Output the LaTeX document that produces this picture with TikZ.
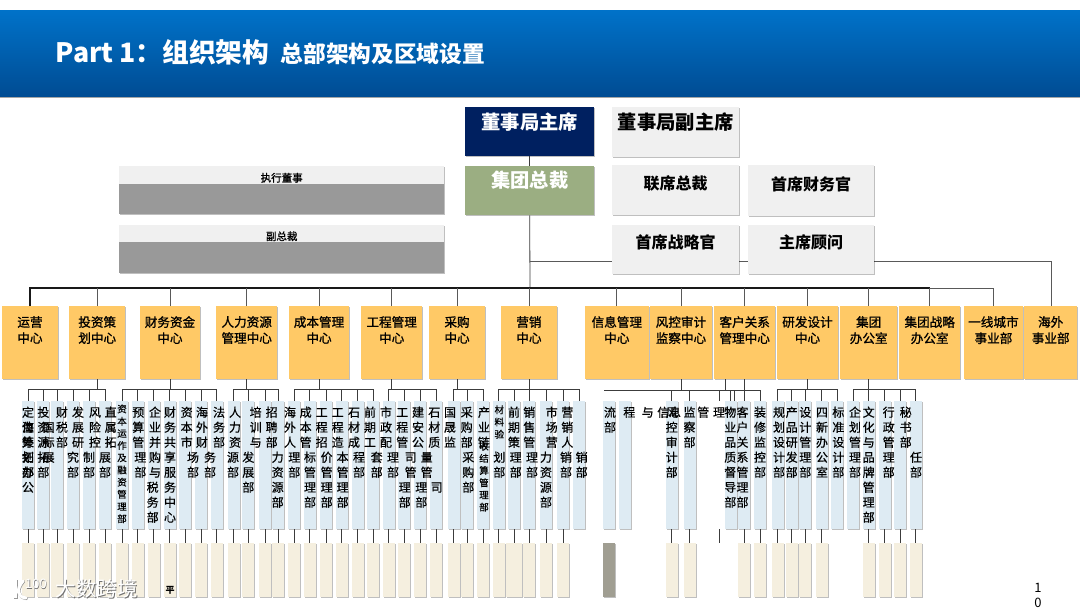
\documentclass[tikz,border=0pt]{standalone}
\usepackage{fontspec}
\setmainfont{Noto Sans CJK SC}
\newfontfamily\medfont[FakeBold=0.5]{Noto Sans CJK SC}
\newfontfamily\hubfont[FakeBold=1.1]{Noto Sans CJK SC}
\usetikzlibrary{shadows,calc}
\definecolor{HeaderTop}{HTML}{0072C9}
\definecolor{HeaderBot}{HTML}{004C93}
\definecolor{deptblue}{HTML}{DEEBF3}
\definecolor{deptbeige}{HTML}{F5EFDF}
\definecolor{hubgold}{HTML}{FFC966}
\definecolor{execgrey}{HTML}{F0F0F0}
\definecolor{navyb}{HTML}{002060}
\definecolor{sageb}{HTML}{9BAE82}
\definecolor{slateb}{HTML}{A09E92}
\definecolor{midgrey}{HTML}{999999}
\definecolor{connb}{HTML}{3C3C3C}
\tikzset{
  softshadow/.style={drop shadow={shadow xshift=1pt,shadow yshift=-1pt,fill=black,opacity=.25}},
  conn/.style={draw=connb,line width=.8pt},
  topdrop/.style={draw=black!65,line width=.9pt},
  busline/.style={draw=black!90,line width=1.1pt},
  bluebox/.style={fill=deptblue,minimum width=12pt,minimum height=128pt,inner sep=0,softshadow},
  beigebox/.style={fill=deptbeige,minimum width=12pt,minimum height=54pt,inner sep=0,softshadow},
  vtxt/.style={anchor=north,align=center,inner sep=0,text=black,font=\medfont\fontsize{12}{15}\selectfont},
  vsmall/.style={anchor=north,align=center,inner sep=0,text=black,font=\medfont\fontsize{9.5}{12.2}\selectfont},
  panelbox/.style={inner sep=0,softshadow},
}
\newcounter{vtc}
% #1 x, #2 line number, #3 characters
\newcommand{\vt}[3]{\stepcounter{vtc}\node[vtxt,name=vt\arabic{vtc}] at (#1,{406.1+15*(#2-1)}) {\strut #3};}
\newcommand{\vts}[3]{\stepcounter{vtc}\node[vsmall,name=vt\arabic{vtc}] at (#1,#2) {\strut #3};}
% name, x1, x2, y1, y2, pad, size, leading, style, text
\newcommand{\panel}[9]{%
  \pgfmathsetmacro{\pw}{#3-#2}\pgfmathsetmacro{\ph}{#5-#4}%
  \node[panelbox,#9,anchor=north west,name=#1] at (#2,#4) {\parbox[t][\ph pt][t]{\pw pt}{\centering\vspace*{#6pt}\fontsize{#7}{#8}\selectfont\panelfont\strut\paneltext}};}
\newcommand{\hub}[4]{\def\paneltext{#4}\def\panelfont{\hubfont}\panel{#1}{#2}{#3}{306}{379}{10}{12.6}{15}{fill=hubgold}}
\def\panelfont{\bfseries}
\begin{document}
\begin{tikzpicture}[x=1pt,y=-1pt]
\useasboundingbox (0,0) rectangle (1080,608);
\clip (0,0) rectangle (1080,608);
\fill[white] (0,0) rectangle (1080,608);

% title band
\fill[black!35] (0,96) rectangle (1080,98);
\node[anchor=north west,inner sep=0,minimum width=1080pt,minimum height=86pt,top color=HeaderTop,bottom color=HeaderBot,name=titleband] at (0,10) {};
\node[anchor=base west,inner sep=0,text=white,font=\fontsize{26.7}{30}\selectfont\bfseries,name=titleA] at (55.5,62.5) {Part 1：组织架构};
\node[anchor=base west,inner sep=0,text=white,font=\fontsize{22.7}{26}\selectfont\bfseries,name=titleB] at (280.5,62.5) {总部架构及区域设置};

% boxes: top block
\def\paneltext{董事局主席}\panel{chair}{465}{594}{107}{156}{5.5}{19.3}{24}{fill=navyb,text=white}
\def\paneltext{集团总裁}\panel{ceo}{465}{594}{166}{215}{4.5}{19.3}{24}{fill=sageb,text=white}
\coordinate (axisBus) at (530,288);
\coordinate (elbow) at (1051,261);
\coordinate (branch) at (530,261);
\draw[conn] (chair.south) -- (ceo.north);
\draw[conn] (ceo.south) -- (axisBus);
\draw[topdrop] (branch) -- (elbow);
\def\paneltext{董事局副主席}\panel{vchair}{612}{739}{107}{157}{5.5}{19.3}{24}{fill=execgrey}
\def\paneltext{联席总裁}\panel{coceo}{612}{739}{165}{215}{10}{16}{20}{fill=execgrey}
\def\paneltext{首席财务官}\panel{cfo}{748}{874}{165}{216}{11}{16}{20}{fill=execgrey}
\def\paneltext{首席战略官}\panel{cso}{612}{739}{225}{274}{9}{16}{20}{fill=execgrey}
\def\paneltext{主席顾问}\panel{adv}{748}{874}{225}{274}{9}{16}{20}{fill=execgrey}

\node[panelbox,fill=midgrey,anchor=north west,minimum width=325pt,minimum height=48pt,name=execbody] at (119,166) {};
\node[fill=execgrey,inner sep=0,anchor=north west,minimum width=325pt,minimum height=18pt,font=\hubfont\fontsize{10.5}{12}\selectfont,name=execband] at (119,166) {\rule{0pt}{14pt}执行董事};
\node[panelbox,fill=midgrey,anchor=north west,minimum width=325pt,minimum height=48pt,name=vpbody] at (119,225) {};
\node[fill=execgrey,inner sep=0,anchor=north west,minimum width=325pt,minimum height=17pt,font=\hubfont\fontsize{10.5}{12}\selectfont,name=vpband] at (119,225) {\rule{0pt}{14pt}副总裁};

% hubs
\hub{h1}{2}{57.5}{运营\\中心}
\hub{h2}{69}{125}{投资策\\划中心}
\hub{h3}{139.5}{200}{财务资金\\中心}
\hub{h4}{216}{277}{人力资源\\管理中心}
\hub{h5}{288.6}{349}{成本管理\\中心}
\hub{h6}{361}{422}{工程管理\\中心}
\hub{h7}{428.7}{485}{采购\\中心}
\hub{h8}{501}{556.5}{营销\\中心}
\hub{h9}{584.8}{648.5}{信息管理\\中心}
\hub{h10}{650}{711.5}{风控审计\\监察中心}
\hub{h11}{714}{775}{客户关系\\管理中心}
\hub{h12}{776.6}{838}{研发设计\\中心}
\hub{h13}{840}{897}{集团\\办公室}
\hub{h14}{899}{960}{集团战略\\办公室}
\hub{h15}{963.5}{1023}{一线城市\\事业部}
\hub{h16}{1024}{1077}{海外\\事业部}

% main bus
\draw[busline] (h1.north) -- ++(0,-18) -| (h14.north);
\draw[topdrop] (h14.north) ++(0,-18) -| (h15.north);
\foreach \n in {2,...,14} \draw[topdrop] (h\n.north) -- ++(0,-18);
\draw[topdrop] (elbow) -- (elbow |- h16.north);

% departments
\foreach \n/\x in {1/28,2/43.4,3/57,4/73.3,5/89,6/105,7/122.3,8/137.7,9/153.7,10/169.7,11/185,12/201,13/216.7,14/233.7,15/248.3,16/265,17/278.3,18/294.3,19/309.7,20/326,21/341.7,22/357.7,23/373.3,24/388.7,25/404.3,26/420.3,27/436,28/453.7,29/467.3,30/483.3,31/498.7,32/514,33/529,34/546,35/563.3,36/579,37/609,38/625,39/671.7,40/689.5,41/730.5,42/744,43/760,44/777.5,45/791.5,46/805,47/821.5,48/837,49/853,50/868.5,51/884.5,52/900,53/915.5}
  \node[bluebox,name=b\n] at (\x,465) {};
\foreach \n/\x in {1/28,2/43.4,3/57,4/73.3,5/89,6/105,7/122.3,8/137.7,9/153.7,10/169.7,11/185,12/201,13/216.7,14/233.7,15/248.3,16/265,17/278.3,18/294.3,19/309.7,20/326,21/341.7,22/357.7,23/373.3,24/388.7,25/404.3,26/420.3,27/436,28/453.7,29/467.3,30/483.3,31/498.7,33/529,34/546,35/563.3,39/671.7,40/689.5,42/744,43/760,44/777.5,45/791.5,46/805,47/821.5,50/868.5,51/884.5,52/900,53/915.5}
  \node[beigebox,name=y\n] at (\x,570) {};
\node[beigebox,minimum width=16pt,name=y32] at (514,570) {};
\node[beigebox,fill=slateb,name=y37] at (609,570) {};
\foreach \n in {1,...,35,39,40,42,43,...,47,50,51,52,53} \draw[conn] (b\n.south) -- (y\n.north);

% lower buses
\newcommand{\bus}[3]{\draw[conn] (h#1.south) -- ++(0,11);
  \draw[conn] (b#2.north) -- ++(0,-11) -| (b#3.north);
  \foreach \n in {#2,...,#3} \draw[conn] (b\n.north) -- ++(0,-11);}
\bus{2}{1}{6}
\bus{3}{7}{13}
\bus{4}{14}{17}
\bus{5}{18}{23}
\bus{6}{24}{27}
\bus{7}{28}{30}
\bus{8}{31}{36}
\bus{12}{44}{48}
\bus{13}{49}{53}
% risk / customer cluster
\coordinate (riskL) at (604,390);
\coordinate (riskR) at (735,390);
\coordinate (stubA) at (719,390);
\coordinate (stubB) at (719,401);
\coordinate (stubC) at (719,529);
\coordinate (stubD) at (719,543);
\coordinate (stubE) at (734,390);
\coordinate (stubF) at (734,401);
\coordinate (stubG) at (725,379);
\coordinate (stubH) at (725,390);
\draw[conn] (h10.south) -- ++(0,11);
\draw[conn] (riskL) -- (riskR);
\draw[conn] (b39.north) -- ++(0,-11);
\draw[conn] (b40.north) -- ++(0,-11);
\draw[conn] (b41.north) -- ++(0,-11);
\draw[conn] (stubA) -- (stubB);
\draw[conn] (stubC) -- (stubD);
\draw[conn] (stubE) -- (stubF);
\draw[conn] (stubG) -- (stubH);
\draw[conn] (h11.south) -- ++(0,11);
\draw[conn] (stubE) -- (b43.north |- stubE) -- (b43.north);
\draw[conn] (b42.north) -- ++(0,-11);

% department text
\vt{28}{1}{定\\位\\策\\划\\部}
\vt{28}{2}{海\\外\\拓\\办\\公}
\vt{43.4}{1}{投\\资\\源\\拓\\部}
\vt{48.7}{2}{国\\标\\展}
\vt{62}{1}{财\\税\\部}
\vt{78}{1}{发\\展\\研}
\vt{73}{4}{究\\部}
\vt{95}{1}{风\\险\\控}
\vt{89}{4}{制\\部}
\vt{110.7}{1}{直\\属\\拓}
\vt{105}{4}{展\\部}
\vts{122}{403.8}{资\\本\\运\\作\\及\\融\\资\\管\\理\\部}
\vt{138.3}{1}{预\\算\\管}
\vt{140.3}{4}{理\\部}
\vt{155}{1}{企\\业\\并\\购\\与}
\vt{152.7}{6}{税\\务\\部}
\vt{170}{1}{财\\务\\共\\享\\服\\务\\中\\心}
\vt{186.7}{1}{资\\本\\市}
\vt{193}{4}{场\\部}
\vt{202}{1}{海\\外\\财}
\vt{210}{4}{务\\部}
\vt{219}{1}{法\\务\\部}
\vt{235}{1}{人\\力\\资}
\vt{233}{4}{源\\部}
\vt{255.7}{1}{培\\训\\与}
\vt{248.3}{4}{发\\展\\部}
\vt{271.7}{1}{招\\聘\\部}
\vt{277.7}{4}{力\\资\\源\\部}
\vt{290}{1}{海\\外\\人}
\vt{294.3}{4}{理\\部}
\vt{305.7}{1}{成\\本\\管}
\vt{310}{4}{标\\管\\理\\部}
\vt{321.7}{1}{工\\程\\招}
\vt{326.7}{4}{价\\管\\理\\部}
\vt{337.7}{1}{工\\程\\造}
\vt{342.7}{4}{本\\管\\理\\部}
\vt{354}{1}{石\\材\\成}
\vt{359}{4}{程\\部}
\vt{370}{1}{前\\期\\工}
\vt{376.7}{4}{套\\部}
\vt{386}{1}{市\\政\\配}
\vt{393}{4}{理\\部}
\vt{402.3}{1}{工\\程\\管}
\vt{410.7}{4}{司\\管}
\vt{404.7}{6}{理\\部}
\vt{418}{1}{建\\安\\公}
\vt{426.7}{4}{量\\管}
\vt{421.3}{6}{理\\部}
\vt{434.3}{1}{石\\材\\质}
\vt{436.7}{6}{司}
\vt{450}{1}{国\\晟\\监}
\vt{466.7}{1}{采\\购\\部}
\vt{468.3}{4}{采\\购\\部}
\vt{484}{1}{产\\业\\链}
\vts{484}{441}{收\\结\\算\\管\\理\\部}
\vts{499.3}{404.7}{材\\料\\验}
\vt{499.3}{4}{划\\部}
\vt{514}{1}{前\\期\\策}
\vt{515.7}{4}{理\\部}
\vt{529.3}{1}{销\\售\\管}
\vt{532}{4}{理\\部}
\vt{551.7}{1}{市\\场\\营}
\vt{546}{4}{力\\资\\源\\部}
\vt{567.3}{1}{营\\销\\人}
\vt{566}{4}{销\\部}
\vt{581.7}{4}{销\\部}
\vt{610}{1}{流\\部}
\vt{629.3}{1}{程}
\vt{647.7}{1}{与}
\vt{663.3}{1}{信}
\vt{675}{1}{息}
\vt{671.7}{1}{风\\控\\审\\计\\部}
\vt{689.5}{1}{监\\察\\部}
\vt{703.3}{1}{管}
\vt{719}{1}{理}
\vt{730.3}{1}{物\\业\\品\\质\\督\\导\\部}
\vt{742.5}{1}{客\\户\\关\\系\\管\\理\\部}
\vt{760}{1}{装\\修\\监\\控\\部}
\vt{779}{1}{规\\划\\设\\计\\部}
\vt{791.7}{1}{产\\品\\研\\发\\部}
\vt{805.3}{1}{设\\计\\管\\理\\部}
\vt{822}{1}{四\\新\\办\\公\\室}
\vt{838.3}{1}{标\\准\\设\\计\\部}
\vt{855}{1}{企\\划\\管\\理\\部}
\vt{868.7}{1}{文\\化\\与\\品\\牌\\管\\理\\部}
\vt{888.7}{1}{行\\政\\管\\理\\部}
\vt{905.7}{1}{秘\\书\\部}
\vt{916}{4}{任\\部}

% small stray text, watermark, page number
\node[inner sep=0,font=\fontsize{9}{10}\selectfont\bfseries,name=stray] at (170,590.5) {平};
\fill[black!40] (13.6,579.6) rectangle (17.6,598.6);
\draw[black!40,line width=3pt,line cap=round] (23.6,581.6) .. controls (16.6,589.6) and (17.6,597.6) .. (26.6,598.6);
\fill[white] (13,579) rectangle (17,598);
\draw[white,line width=3pt,line cap=round] (23,581) .. controls (16,589) and (17,597) .. (26,598);
\node[inner sep=0,text=black!55,font=\fontsize{20.5}{24}\selectfont,name=wmshadow] at (97.6,589.6) {大数跨境};
\node[inner sep=0,text=white,font=\fontsize{20.5}{24}\selectfont,name=wm] at (97,589) {大数跨境};
\node[inner sep=0,text=black!55,font=\fontsize{13}{14}\selectfont,name=wmlogoS] at (36.6,584.6) {100};
\node[inner sep=0,text=white,font=\fontsize{13}{14}\selectfont,name=wmlogo] at (36,584) {100};
\node[anchor=north,inner sep=0,align=center,font=\fontsize{13}{14.5}\selectfont,name=pageno] at (1038,582.5) {\strut 1\\0};
\end{tikzpicture}
\end{document}
